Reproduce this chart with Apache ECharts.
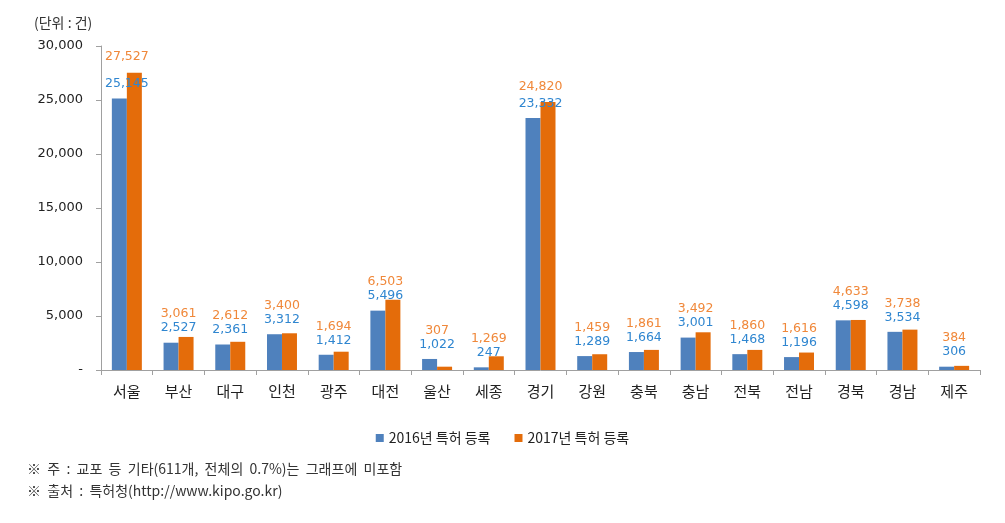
<!DOCTYPE html>
<html><head><meta charset="utf-8">
<script src="https://cdn.jsdelivr.net/npm/echarts@6/dist/echarts.min.js"></script>
<style>html,body{margin:0;padding:0;background:#fff}#c{width:1005px;height:523px}</style>
</head><body><div id="c"></div>
<script>
const categories = ['서울','부산','대구','인천','광주','대전','울산','세종','경기','강원','충북','충남','전북','전남','경북','경남','제주'];
const values2016 = [25145,2527,2361,3312,1412,5496,1022,247,23332,1289,1664,3001,1468,1196,4598,3534,306];
const values2017 = [27527,3061,2612,3400,1694,6503,307,1269,24820,1459,1861,3492,1860,1616,4633,3738,384];
const seriesNames = ['2016년 특허 등록','2017년 특허 등록'];
const yTicks = {min:0, max:30000, interval:5000};

const fmt = v => v.toLocaleString('en-US');
const pxPerUnit = 324 / 30000;
const numFont = 'DejaVu Sans';
const kFont = '"Noto Sans CJK KR", sans-serif';

const d2016 = values2016.map(v => ({value:v}));
const d2017 = values2017.map((v,i) => {
  const gap = (v - values2016[i]) * pxPerUnit;
  return {value:v, label:{distance: Math.max(9, 22 - gap)}};
});

const chart = echarts.init(document.getElementById('c'));
chart.setOption({
  animation:false,
  title:[
    {text:'(단위 : 건)', left:29, top:11, textStyle:{fontFamily:kFont, fontSize:14, fontWeight:'normal', color:'#333'}},
    {text:'※  주  :  교포  등  기타(611개,  전체의  0.7%)는  그래프에  미포함', left:22, top:457, textStyle:{fontFamily:kFont, fontSize:14, fontWeight:'normal', color:'#333'}},
    {text:'※  출처  :  특허청(http://www.kipo.go.kr)', left:22, top:479, textStyle:{fontFamily:kFont, fontSize:14, fontWeight:'normal', color:'#333'}}
  ],
  legend:{
    data:seriesNames, left:'center', top:426, itemWidth:8, itemHeight:8, itemGap:24,
    icon:'rect', textStyle:{fontFamily:kFont, fontSize:14, color:'#222'}
  },
  grid:{left:101, right:25, top:46, bottom:153},
  xAxis:{
    type:'category', data:categories,
    axisLine:{lineStyle:{color:'#a0a0a0'}},
    axisTick:{show:true, length:5, alignWithLabel:false, lineStyle:{color:'#a0a0a0'}},
    axisLabel:{fontFamily:kFont, fontSize:15, color:'#222', margin:14}
  },
  yAxis:{
    type:'value', min:yTicks.min, max:yTicks.max, interval:yTicks.interval,
    splitLine:{show:false},
    axisLine:{show:true, lineStyle:{color:'#a0a0a0'}},
    axisTick:{show:true, length:5, lineStyle:{color:'#a0a0a0'}},
    axisLabel:{fontFamily:numFont, fontSize:13, color:'#222', margin:18,
      formatter: v => v === 0 ? '-' : fmt(v)}
  },
  series:[
    {name:seriesNames[0], type:'bar', data:d2016, barWidth:15, barGap:'0%',
     itemStyle:{color:'#4F81BD'},
     label:{show:true, position:'top', distance:8, offset:[7.5,0], formatter:p=>fmt(p.value),
       fontFamily:numFont, fontSize:12.5, color:'#2F86D0'}},
    {name:seriesNames[1], type:'bar', data:d2017, barWidth:15, barGap:'0%',
     itemStyle:{color:'#E46C0A'},
     label:{show:true, position:'top', offset:[-7.5,0], formatter:p=>fmt(p.value),
       fontFamily:numFont, fontSize:12.5, color:'#F0883A'}}
  ]
});
</script></body></html>
